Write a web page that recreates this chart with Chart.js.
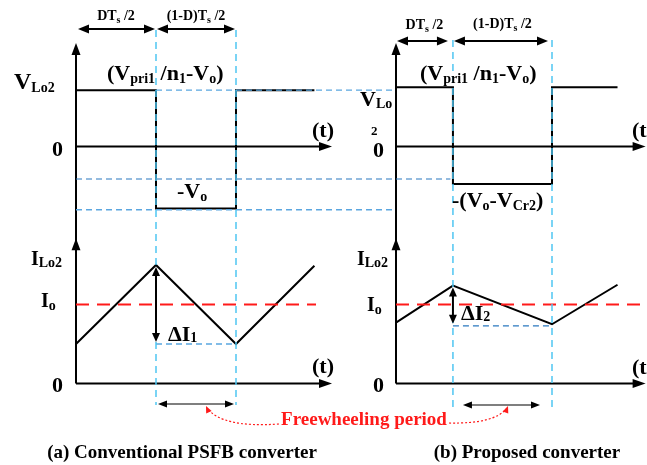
<!DOCTYPE html>
<html>
<head>
<meta charset="utf-8">
<script src="https://cdn.jsdelivr.net/npm/chart.js@4.4.1/dist/chart.umd.min.js"></script>
<style>
  html, body { margin: 0; padding: 0; background: #fff; }
  #wrap { width: 647px; height: 465px; }
</style>
</head>
<body>
<div id="wrap"><canvas id="chart" width="647" height="465"></canvas></div>
<script>
// ========== DATA ==========
// time is in units of Ts/2, counted from each panel's vertical axis
const timeVA = [0, 0.5, 0.5, 1.0, 1.0, 1.49];
const vLo2A = [0.98, 0.98, -1.08, -1.08, 0.98, 0.98];
const timeVB = [0, 0.365, 0.365, 1.0, 1.0, 1.42];
const vLo2B = [1.03, 1.03, -0.65, -0.65, 1.03, 1.03];

const timeIA = [0, 0.5, 1.0, 1.49];
const iLo2A = [0.5, 1.5, 0.5, 1.49];
const timeIB = [0, 0.365, 1.0, 1.42];
const iLo2B = [0.77, 1.24, 0.75, 1.25];

const ioLevel = 1;
const ioSpanA = [0, 1.5];
const ioSpanB = [0, 1.6];

// switching instants (DTs/2 and Ts/2) per panel
const edgesA = [0.5, 1.0];
const edgesB = [0.365, 1.0];

// reference levels carried across both voltage plots
const refHighSpan = [0.5, 2.0];
const refMidLevel = -0.565;
const refMidSpan = [0, 2.34];
const refLowLevel = -1.1;
const refLowSpan = [0, 1.98];
const rippleLowA = 0.5;
const rippleLowB = 0.73;

// axis extents
const axisEndT = 1.6;
const vAxisTop = 1.8;
const iAxisTop = 1.84;

// ========== LAYOUT ==========
const W = 647, H = 465;
const frame = {
  xa: { origin: 76, unit: 160 },
  xb: { origin: 396, unit: 156 },
  yv: { origin: 146.5, unit: 57.5 },
  yi: { origin: 383.5, unit: 79 },
};
const xRange = (f) => ({ min: -f.origin / f.unit, max: (W - f.origin) / f.unit });
const yRange = (f) => ({ min: -(H - f.origin) / f.unit, max: f.origin / f.unit });

const hidden = (range) => ({ type: "linear", display: false, min: range.min, max: range.max });

const pts = (xs, ys) => xs.map((x, i) => ({ x, y: ys[i] }));
const hline = (span, level) => span.map((x) => ({ x, y: level }));

const BLACK = "#000";
const RED = "#ff1a1a";
const LIGHT_BLUE = "#4fc6f2";
const MID_BLUE = "#5aa6e0";
const DARK_BLUE = "#2b78bf";
const FONT = (s) => `bold ${s}px "Liberation Serif", "Times New Roman", serif`;

const line = (data, xId, yId, color, width, dash) => ({
  data,
  xAxisID: xId,
  yAxisID: yId,
  showLine: true,
  borderColor: color,
  borderWidth: width,
  borderDash: dash || [],
  pointRadius: 0,
  fill: false,
  tension: 0,
});

// ========== DRAW HELPERS ==========
const head = (ctx, x, y, ang, len, half) => {
  const c = Math.cos(ang), s = Math.sin(ang);
  ctx.beginPath();
  ctx.moveTo(x, y);
  ctx.lineTo(x - len * c + half * s, y - len * s - half * c);
  ctx.lineTo(x - len * c - half * s, y - len * s + half * c);
  ctx.closePath();
  ctx.fill();
};

const seg = (ctx, x1, y1, x2, y2) => {
  ctx.beginPath();
  ctx.moveTo(x1, y1);
  ctx.lineTo(x2, y2);
  ctx.stroke();
};

const dblArrow = (ctx, x1, y1, x2, y2, width, len, half) => {
  const ang = Math.atan2(y2 - y1, x2 - x1);
  ctx.lineWidth = width;
  seg(ctx, x1 + Math.cos(ang) * len * 0.6, y1 + Math.sin(ang) * len * 0.6,
      x2 - Math.cos(ang) * len * 0.6, y2 - Math.sin(ang) * len * 0.6);
  head(ctx, x2, y2, ang, len, half);
  head(ctx, x1, y1, ang + Math.PI, len, half);
};

// parts: [text, size, dy]
const rich = (ctx, x, y, parts, align) => {
  let total = 0;
  parts.forEach(([t, s]) => { ctx.font = FONT(s); total += ctx.measureText(t).width; });
  let cx = align === "center" ? x - total / 2 : x;
  parts.forEach(([t, s, dy]) => {
    ctx.font = FONT(s);
    ctx.fillText(t, cx, y + (dy || 0));
    cx += ctx.measureText(t).width;
  });
};

// ========== FIGURE PLUGIN ==========
const figurePlugin = {
  id: "figure",
  beforeDatasetsDraw(chart) {
    const { ctx, scales } = chart;
    const { xa, xb, yv, yi } = scales;
    ctx.save();
    ctx.strokeStyle = BLACK;
    ctx.fillStyle = BLACK;
    ctx.lineWidth = 2;
    [xa, xb].forEach((xs) => {
      const x0 = xs.getPixelForValue(0);
      const xEnd = xs.getPixelForValue(axisEndT);
      const vTop = yv.getPixelForValue(vAxisTop);
      const iTop = yi.getPixelForValue(iAxisTop);
      const v0 = yv.getPixelForValue(0);
      const i0 = yi.getPixelForValue(0);
      // vertical axis runs through both plots
      seg(ctx, x0, i0, x0, vTop + 8);
      head(ctx, x0, vTop, -Math.PI / 2, 12, 4.5);
      head(ctx, x0, iTop, -Math.PI / 2, 12, 4.5);
      // time axes
      seg(ctx, x0, v0, xEnd - 8, v0);
      head(ctx, xEnd, v0, 0, 13, 4.5);
      seg(ctx, x0, i0, xEnd - 8, i0);
      head(ctx, xEnd, i0, 0, 13, 4.5);
    });
    ctx.restore();
  },
  afterDatasetsDraw(chart) {
    const { ctx, scales } = chart;
    const { xa, xb, yi } = scales;
    ctx.save();

    // switching instants
    ctx.strokeStyle = LIGHT_BLUE;
    ctx.lineWidth = 1.5;
    ctx.setLineDash([7, 5]);
    edgesA.forEach((t) => seg(ctx, xa.getPixelForValue(t), 30, xa.getPixelForValue(t), 405));
    edgesB.forEach((t) => seg(ctx, xb.getPixelForValue(t), 40, xb.getPixelForValue(t), 412));
    ctx.setLineDash([]);

    ctx.strokeStyle = BLACK;
    ctx.fillStyle = BLACK;

    // interval arrows on top
    const a0 = xa.getPixelForValue(0), a1 = xa.getPixelForValue(edgesA[0]), a2 = xa.getPixelForValue(edgesA[1]);
    const b0 = xb.getPixelForValue(0), b1 = xb.getPixelForValue(edgesB[0]), b2 = xb.getPixelForValue(edgesB[1]);
    dblArrow(ctx, a0 + 2, 29, a1 - 1, 29, 2, 11, 4.5);
    dblArrow(ctx, a1 + 1, 29, a2 - 1, 29, 2, 11, 4.5);
    dblArrow(ctx, b0 + 1, 41, b1 - 5, 41, 2, 11, 4.5);
    dblArrow(ctx, b1 + 1, 41, b2 - 4, 41, 2, 11, 4.5);

    // ripple arrows
    dblArrow(ctx, a1, yi.getPixelForValue(iLo2A[1]) + 2, a1, yi.getPixelForValue(rippleLowA) - 2, 2, 9, 4);
    dblArrow(ctx, b1, yi.getPixelForValue(iLo2B[1]) + 2, b1, yi.getPixelForValue(rippleLowB) - 2, 2, 9, 4);

    // freewheeling intervals
    dblArrow(ctx, a1 + 2, 404, a2 - 2, 404, 1.2, 9, 3.5);
    dblArrow(ctx, b1 + 10, 405, b2 - 12, 405, 1.2, 9, 3.5);

    // dotted pointers to the caption
    ctx.strokeStyle = RED;
    ctx.fillStyle = RED;
    ctx.lineWidth = 1.2;
    ctx.setLineDash([2, 2]);
    ctx.beginPath();
    ctx.moveTo(279, 424);
    ctx.quadraticCurveTo(222, 428, 207, 408);
    ctx.stroke();
    ctx.beginPath();
    ctx.moveTo(449, 423);
    ctx.quadraticCurveTo(495, 424, 507, 408);
    ctx.stroke();
    ctx.setLineDash([]);
    head(ctx, 206, 406, -2.0, 7, 3);
    head(ctx, 508, 406, -1.2, 7, 3);

    // ---- text ----
    ctx.fillStyle = BLACK;
    ctx.textBaseline = "alphabetic";
    rich(ctx, (a0 + a1) / 2, 20, [["D", 14], ["T", 14], ["s", 10, 3], [" /2", 14]], "center");
    rich(ctx, (a1 + a2) / 2, 20, [["(1-D)T", 14], ["s", 10, 3], [" /2", 14]], "center");
    rich(ctx, (b0 + b1) / 2, 29, [["D", 14], ["T", 14], ["s", 10, 3], [" /2", 14]], "center");
    rich(ctx, (b1 + b2) / 2, 28, [["(1-D)T", 14], ["s", 10, 3], [" /2", 14]], "center");

    const vpri = [["(V", 22], ["pri1", 14, 3], [" /n", 22], ["1", 14, 3], ["-V", 22], ["o", 14, 3], [")", 22]];
    rich(ctx, 107, 80, vpri);
    rich(ctx, 420, 80, vpri);

    rich(ctx, 14, 89, [["V", 24], ["Lo2", 14, 3]]);
    rich(ctx, 360, 106, [["V", 22], ["Lo", 14, 2]]);
    rich(ctx, 371, 135, [["2", 13]]);

    rich(ctx, 52, 156, [["0", 22]]);
    rich(ctx, 373, 157, [["0", 22]]);
    rich(ctx, 52, 392, [["0", 22]]);
    rich(ctx, 373, 392, [["0", 22]]);

    rich(ctx, 312, 137, [["(t)", 22]]);
    rich(ctx, 632, 137, [["(t)", 22]]);
    rich(ctx, 312, 373, [["(t)", 22]]);
    rich(ctx, 632, 374, [["(t)", 22]]);

    rich(ctx, 177, 198, [["-V", 22], ["o", 14, 3]]);
    rich(ctx, 452, 207, [["-(V", 22], ["o", 14, 3], ["-V", 22], ["Cr2", 14, 3], [")", 22]]);

    rich(ctx, 31, 265, [["I", 20], ["Lo2", 14, 2]]);
    rich(ctx, 357, 265, [["I", 20], ["Lo2", 14, 2]]);
    rich(ctx, 41, 307, [["I", 20], ["o", 14, 3]]);
    rich(ctx, 367, 311, [["I", 20], ["o", 14, 3]]);

    rich(ctx, 168, 341, [["\u0394I", 22], ["1", 14, 1]]);
    rich(ctx, 461, 320, [["\u0394I", 22], ["2", 14, 1]]);

    ctx.fillStyle = RED;
    rich(ctx, 364, 425, [["Freewheeling period", 19]], "center");

    ctx.fillStyle = BLACK;
    rich(ctx, 182, 458, [["(a) Conventional PSFB converter", 19]], "center");
    rich(ctx, 527, 458, [["(b) Proposed converter", 19]], "center");

    ctx.restore();
  },
};

// ========== CHART ==========
new Chart(document.getElementById("chart"), {
  type: "scatter",
  data: {
    datasets: [
      line(hline(refHighSpan, vLo2A[0]), "xa", "yv", MID_BLUE, 1.3, [6, 4]),
      line(hline(refMidSpan, refMidLevel), "xa", "yv", DARK_BLUE, 1.2, [6, 4]),
      line(hline(refLowSpan, refLowLevel), "xa", "yv", MID_BLUE, 1.3, [6, 4]),
      line(hline(edgesA, rippleLowA), "xa", "yi", MID_BLUE, 1.5, [6, 4]),
      line(hline(edgesB, rippleLowB), "xb", "yi", DARK_BLUE, 1.3, [6, 4]),
      line(hline(ioSpanA, ioLevel), "xa", "yi", RED, 2, [13, 8]),
      line(hline(ioSpanB, ioLevel), "xb", "yi", RED, 2, [13, 8]),
      line(pts(timeVA, vLo2A), "xa", "yv", BLACK, 2),
      line(pts(timeVB, vLo2B), "xb", "yv", BLACK, 2),
      line(pts(timeIA, iLo2A), "xa", "yi", BLACK, 2),
      line(pts(timeIB, iLo2B), "xb", "yi", BLACK, 2),
    ],
  },
  options: {
    responsive: false,
    animation: false,
    devicePixelRatio: 1,
    layout: { padding: 0 },
    plugins: { legend: { display: false }, tooltip: { enabled: false }, title: { display: false } },
    scales: {
      x: { display: false },
      y: { display: false },
      xa: hidden(xRange(frame.xa)),
      xb: hidden(xRange(frame.xb)),
      yv: hidden(yRange(frame.yv)),
      yi: hidden(yRange(frame.yi)),
    },
  },
  plugins: [figurePlugin],
});
</script>
</body>
</html>
